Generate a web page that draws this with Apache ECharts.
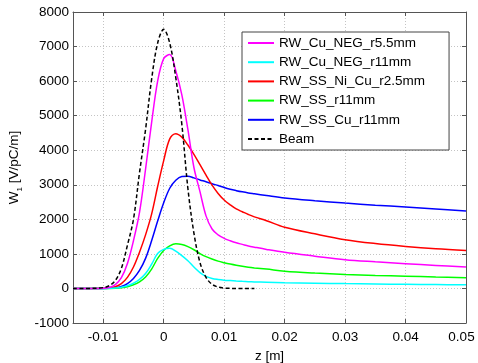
<!DOCTYPE html>
<html>
<head>
<meta charset="utf-8">
<script src="https://cdn.jsdelivr.net/npm/echarts@6/dist/echarts.min.js"></script>
<style>
html,body{margin:0;padding:0;background:#fff;}
#chart{width:478px;height:363px;}
</style>
</head>
<body>
<div id="chart"></div>
<script>
// z positions [m]
var zValues = [-0.015,-0.012,-0.010,-0.009,-0.008,-0.007,-0.006,-0.005,-0.004,-0.003,-0.002,-0.001,0,0.001,0.002,0.003,0.004,0.005,0.006,0.007,0.008,0.009,0.010,0.011,0.012,0.013,0.014,0.015,0.017,0.020,0.025,0.030,0.035,0.040,0.045,0.050];

var seriesNames = ['RW_Cu_NEG_r5.5mm','RW_Cu_NEG_r11mm','RW_SS_Ni_Cu_r2.5mm','RW_SS_r11mm','RW_SS_Cu_r11mm','Beam'];

var cuNegR55 = [0,1,8,30,110,310,720,1380,2200,3450,4800,6000,6650,6770,6300,5600,4600,3500,2800,2100,1720,1550,1450,1380,1320,1275,1230,1195,1130,1045,935,832,770,716,665,617];
var cuNegR11 = [0,0,1,3,12,35,80,150,260,430,700,1010,1130,1160,1080,950,800,620,460,350,290,260,240,228,215,205,197,190,180,165,152,140,130,120,112,105];
var ssNiCuR25 = [0,1,4,15,50,140,320,620,1050,1550,2150,2950,3700,4330,4480,4380,4150,3880,3580,3280,2990,2750,2560,2420,2300,2220,2140,2070,1960,1770,1580,1411,1300,1217,1150,1100];
var ssR11 = [0,0,0,1,6,20,50,105,190,330,560,870,1100,1230,1290,1270,1210,1120,1010,920,850,790,745,705,670,640,615,595,560,500,445,405,378,355,330,310];
var ssCuR11 = [0,0,1,5,18,55,140,290,520,870,1380,1950,2480,2900,3130,3240,3250,3200,3140,3090,3030,2980,2920,2870,2830,2795,2765,2740,2690,2620,2540,2470,2410,2357,2300,2241];
var beam = [0,2,25,80,230,580,1250,2000,3350,4600,6050,7100,7500,7100,6100,4750,2900,1600,750,320,120,40,10,2,0,0,0,0,null,null,null,null,null,null,null,null];

var xTicks = [-0.01,0,0.01,0.02,0.03,0.04,0.05];

var seriesColors = ['#ff00ff','#00ffff','#ff0000','#00ff00','#0000ff','#000000'];
var allValues = [cuNegR55, cuNegR11, ssNiCuR25, ssR11, ssCuR11, beam];

function pairs(vals){
  var out = [];
  for (var i = 0; i < zValues.length; i++) {
    if (vals[i] !== null) out.push([zValues[i], vals[i]]);
  }
  return out;
}

var FONT = "'Liberation Sans', Arial, Helvetica, sans-serif";
var series = seriesNames.map(function(name, i){
  return {
    name: name,
    type: 'line',
    data: pairs(allValues[i]),
    showSymbol: false,
    symbol: 'none',
    smooth: 0.35,
    xAxisIndex: 0,
    yAxisIndex: 0,
    z: i === 5 ? 10 : 5 - i,
    lineStyle: {
      color: seriesColors[i],
      width: 1.5,
      type: i === 5 ? [4, 2.5] : 'solid'
    },
    itemStyle: {color: seriesColors[i]}
  };
});

var lastTick = xTicks[xTicks.length - 1];

var chart = echarts.init(document.getElementById('chart'), null, {renderer: 'canvas'});
chart.setOption({
  animation: false,
  backgroundColor: '#fff',
  textStyle: {fontFamily: FONT},
  grid: {left: 73, right: 12, top: 12, bottom: 40, containLabel: false, outerBoundsMode: 'none'},
  legend: {
    orient: 'vertical',
    left: 242,
    top: 32,
    data: seriesNames,
    itemWidth: 26,
    itemHeight: 14,
    itemGap: 5.2,
    padding: [4, 24, 4, 5],
    backgroundColor: '#fff',
    borderColor: '#444',
    borderWidth: 1,
    borderRadius: 0,
    itemStyle: {opacity: 0},
    textStyle: {fontFamily: FONT, fontSize: 13.5, color: '#000', lineHeight: 14}
  },
  xAxis: [{
    type: 'value',
    min: -0.015,
    max: 0.05,
    name: 'z [m]',
    nameLocation: 'middle',
    nameGap: 26,
    nameTextStyle: {fontFamily: FONT, fontSize: 13.5, color: '#000'},
    axisLine: {show: true, onZero: false, lineStyle: {color: '#555', width: 1}},
    axisTick: {show: true, inside: true, length: 4, customValues: xTicks, lineStyle: {color: '#555'}},
    axisLabel: {customValues: xTicks, fontFamily: FONT, fontSize: 13.5, color: '#000', margin: 7,
      formatter: function(v){
        var s = String(Math.round(v*100)/100);
        return Math.abs(v - lastTick) < 1e-9 ? '{m|' + s + '}' : s;
      },
      rich: {m: {fontFamily: FONT, fontSize: 13.5, color: '#000', padding: [0, 9, 0, 0]}}
    },
    splitLine: {show: true, lineStyle: {color: '#c4c4c4', type: [1, 2], width: 1}}
  }, {
    type: 'value',
    position: 'top',
    min: -0.015,
    max: 0.05,
    axisLine: {show: true, onZero: false, lineStyle: {color: '#555', width: 1}},
    axisTick: {show: true, inside: true, length: 4, customValues: xTicks, lineStyle: {color: '#555'}},
    axisLabel: {show: false},
    splitLine: {show: false}
  }],
  yAxis: [{
    type: 'value',
    min: -1000,
    max: 8000,
    interval: 1000,
    name: '{a|W}{b|1}{a| [V/pC/m]}',
    nameLocation: 'middle',
    nameGap: 44,
    nameTextStyle: {
      fontFamily: FONT, fontSize: 13.5, color: '#000',
      rich: {
        a: {fontFamily: FONT, fontSize: 13.5, color: '#000', lineHeight: 18},
        b: {fontFamily: FONT, fontSize: 8, color: '#000', lineHeight: 18, verticalAlign: 'bottom'}
      }
    },
    axisLine: {show: true, onZero: false, lineStyle: {color: '#555', width: 1}},
    axisTick: {show: true, inside: true, length: 4, lineStyle: {color: '#555'}},
    axisLabel: {fontFamily: FONT, fontSize: 13.5, color: '#000', margin: 4,
      formatter: function(v){ return String(v); }},
    splitLine: {show: true, lineStyle: {color: '#c4c4c4', type: [1, 2], width: 1}}
  }, {
    type: 'value',
    position: 'right',
    min: -1000,
    max: 8000,
    interval: 1000,
    axisLine: {show: true, onZero: false, lineStyle: {color: '#555', width: 1}},
    axisTick: {show: true, inside: true, length: 4, lineStyle: {color: '#555'}},
    axisLabel: {show: false},
    splitLine: {show: false}
  }],
  series: series
});
</script>
</body>
</html>
